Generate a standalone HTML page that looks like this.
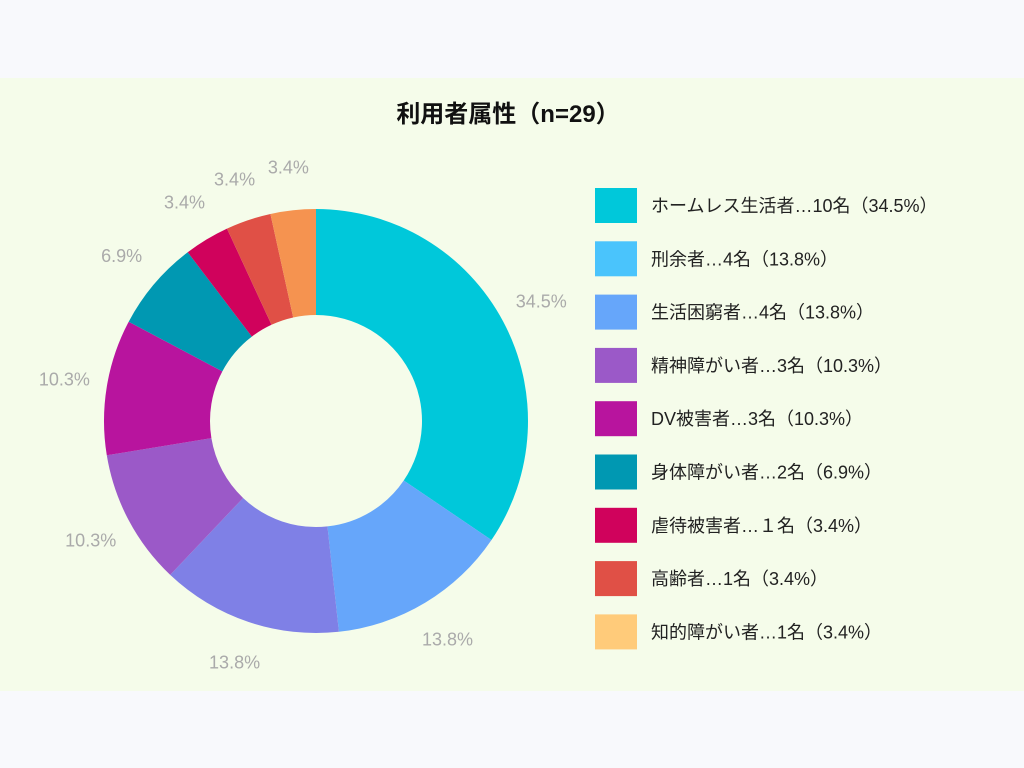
<!DOCTYPE html>
<html><head><meta charset="utf-8"><style>
body{margin:0;width:1024px;height:768px;background:#f8f9fc;font-family:"Liberation Sans","Noto Sans CJK JP",sans-serif;overflow:hidden}
#panel{position:absolute;left:0;top:78px;width:1024px;height:613px;background:#f5fcea}
</style></head><body>
<div id="panel"></div>
<svg id="chart" width="1024" height="768" style="position:absolute;left:0;top:0">
<text x="508" y="122" text-anchor="middle" font-size="24" font-weight="bold" fill="#111" font-family="Liberation Sans, Noto Sans CJK JP, sans-serif">利用者属性（n=29）</text>
<g id="slices"></g><g id="labels"></g><g id="legend"></g>
</svg>
<script>
const categories=["ホームレス生活者…10名（34.5%）","刑余者…4名（13.8%）","生活困窮者…4名（13.8%）","精神障がい者…3名（10.3%）","DV被害者…3名（10.3%）","身体障がい者…2名（6.9%）","虐待被害者…１名（3.4%）","高齢者…1名（3.4%）","知的障がい者…1名（3.4%）"];
const values=[10,4,4,3,3,2,1,1,1];
const sliceColors=["#00c8da","#66a6fa","#7f80e6","#9b59c8","#b8149e","#0098b2","#d0025c","#e05046","#f59350"];
const legendColors=["#00c8da","#4ac4fc","#66a6fa","#9b59c8","#b8149e","#0098b2","#d0025c","#e05046","#ffcb7a"];
const NS="http://www.w3.org/2000/svg";
const cx=316,cy=421,R=212,r=106,LR=255;
const total=values.reduce((a,b)=>a+b,0);
function pt(a,rad){return [cx+rad*Math.sin(a),cy-rad*Math.cos(a)];}
let acc=0;
const sg=document.getElementById('slices'),lg=document.getElementById('labels'),leg=document.getElementById('legend');
values.forEach((v,i)=>{
 const a0=acc/total*2*Math.PI;acc+=v;const a1=acc/total*2*Math.PI;
 const large=(a1-a0)>Math.PI?1:0;
 const p0=pt(a0,R),p1=pt(a1,R),q1=pt(a1,r),q0=pt(a0,r);
 const p=document.createElementNS(NS,'path');
 p.setAttribute('d',`M${p0[0]},${p0[1]}A${R},${R} 0 ${large} 1 ${p1[0]},${p1[1]}L${q1[0]},${q1[1]}A${r},${r} 0 ${large} 0 ${q0[0]},${q0[1]}Z`);
 p.setAttribute('fill',sliceColors[i]);
 
 
 sg.appendChild(p);
 const m=(a0+a1)/2,lp=pt(m,LR);
 const t=document.createElementNS(NS,'text');
 t.setAttribute('x',lp[0]);t.setAttribute('y',lp[1]+6);
 t.setAttribute('text-anchor','middle');t.setAttribute('font-size','18');t.setAttribute('fill','#aaaaaa');
 t.textContent=(v/total*100).toFixed(1)+'%';
 
 
 lg.appendChild(t);
 const y=188+i*53.3;
 const b=document.createElementNS(NS,'rect');
 b.setAttribute('x',595);b.setAttribute('y',y);b.setAttribute('width',42);b.setAttribute('height',35);b.setAttribute('fill',legendColors[i]);
 
 
 leg.appendChild(b);
 const lt=document.createElementNS(NS,'text');
 lt.setAttribute('x',651);lt.setAttribute('y',y+24);lt.setAttribute('font-size','18');lt.setAttribute('fill','#222');
 lt.textContent=categories[i];
 
 
 leg.appendChild(lt);
});
</script>
</body></html>
